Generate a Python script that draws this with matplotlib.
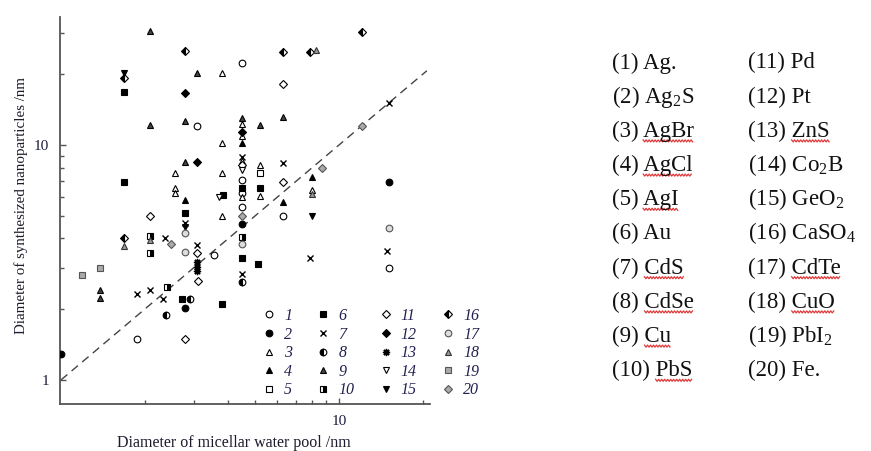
import numpy as np
import matplotlib
matplotlib.use('Agg')
import matplotlib.pyplot as plt
from matplotlib.lines import Line2D

plt.rcParams['font.family'] = ['Liberation Serif', 'DejaVu Serif']
plt.rcParams['mathtext.fontset'] = 'custom'
plt.rcParams['mathtext.rm'] = 'Liberation Serif'
plt.rcParams['mathtext.it'] = 'Liberation Serif:italic'

# ---------------- data ----------------
# (1) Ag
x01 = [4.49, 3.08, 4.49, 4.49, 4.49, 6.29, 3.55, 15.13, 1.87]
y01 = [22.3, 12.05, 7.10, 6.22, 5.45, 4.99, 3.39, 2.99, 1.50]
# (2) Ag2S
x02 = [1.0, 15.13, 2.79, 4.49]
y02 = [1.29, 6.98, 2.02, 4.63]
# (3) AgBr
x03 = [3.78, 3.78, 3.78, 3.78, 2.58, 2.58, 2.58, 4.49, 4.49, 4.49, 4.49, 5.22, 5.22, 7.98]
y03 = [20.3, 10.15, 7.58, 5.01, 7.58, 6.54, 6.22, 12.3, 10.9, 8.51, 6.01, 8.22, 6.07, 6.43]
# (4) AgCl
x04 = [4.49, 2.79, 6.29, 7.98]
y04 = [10.2, 5.83, 5.72, 7.34]
# (5) AgI
x05 = [5.22]
y05 = [7.58]
# (6) Au
x06 = [1.69, 1.69, 2.79, 3.84, 4.49, 5.22, 4.49, 5.13, 2.72, 3.78]
y06 = [16.8, 6.98, 5.15, 6.13, 6.59, 6.59, 3.32, 3.13, 2.20, 2.11]
# (7) CdS
x07 = [15.13, 6.29, 4.49, 2.79, 2.376, 3.08, 4.49, 7.87, 14.89, 2.09, 1.87, 2.333]
y07 = [15.1, 8.36, 8.89, 4.67, 4.01, 3.77, 2.83, 3.30, 3.55, 2.42, 2.32, 2.20]
# (8) CdSe
x08 = [4.49, 2.90, 2.39]
y08 = [2.61, 2.22, 1.89]
# (9) Cu
x09 = [2.09, 3.08, 2.09, 2.79, 2.79, 4.49, 5.22, 6.29, 1.38, 1.38]
y09 = [30.6, 20.3, 12.2, 12.65, 8.44, 13.0, 12.2, 13.2, 2.42, 2.23]
# (10) PbS
x10 = [2.09, 2.09, 4.49, 2.40]
y10 = [4.10, 3.46, 4.06, 2.49]
# (11) Pd
x11 = [6.29, 6.29, 2.09, 4.49, 3.08, 3.12, 2.79]
y11 = [18.1, 6.98, 5.01, 8.18, 3.46, 2.63, 1.50]
# (12) Pt
x12 = [2.79, 3.08, 4.49]
y12 = [16.7, 8.44, 11.4]
# (13) ZnS
x13 = [3.08, 3.08, 3.08]
y13 = [3.18, 3.03, 2.90]
# (14) Co2B
x14 = [3.69, 4.49]
y14 = [6.03, 7.79]
# (15) GeO2
x15 = [1.69, 2.79, 7.98]
y15 = [20.3, 4.47, 5.00]
# (16) CaSO4
x16 = [2.79, 1.69, 6.29, 7.87, 12.07, 1.69]
y16 = [25.2, 19.3, 24.9, 24.8, 30.35, 4.02]
# (17) CdTe
x17 = [2.79, 2.79, 4.49, 15.13]
y17 = [4.22, 3.50, 3.79, 4.42]
# (18) CuO
x18 = [8.27, 7.98, 1.69, 2.09]
y18 = [25.4, 6.16, 3.72, 3.94]
# (19) PbI2
x19 = [1.38, 1.19]
y19 = [2.99, 2.80]
# (20) Fe
x20 = [12.07, 8.67, 4.49, 2.48]
y20 = [12.05, 8.01, 5.00, 3.79]

series_x = [x01, x02, x03, x04, x05, x06, x07, x08, x09, x10,
            x11, x12, x13, x14, x15, x16, x17, x18, x19, x20]
series_y = [y01, y02, y03, y04, y05, y06, y07, y08, y09, y10,
            y11, y12, y13, y14, y15, y16, y17, y18, y19, y20]
legend_numbers = [str(i) for i in range(1, 21)]

compounds = ['Ag.', 'Ag$_2$S', 'AgBr', 'AgCl', 'AgI', 'Au', 'CdS', 'CdSe', 'Cu', 'PbS',
             'Pd', 'Pt', 'ZnS', 'Co$_2$B', 'GeO$_2$', 'CaSO$_4$', 'CdTe', 'CuO', 'PbI$_2$', 'Fe.']
flagged = [False, False, True, True, True, False, True, True, True, True,
           False, False, True, False, False, False, True, True, False, False]

diag_x = [1.0, 20.7]
diag_y = [1.0, 20.7]

# ---------------- marker styles ----------------
K = 'black'
styles = [
    dict(marker='o', mfc='white', mec=K),                       # 1
    dict(marker='o', mfc=K, mec=K),                             # 2
    dict(marker='^', mfc='white', mec=K),                       # 3
    dict(marker='^', mfc=K, mec=K),                             # 4
    dict(marker='s', mfc='white', mec=K),                       # 5
    dict(marker='s', mfc=K, mec=K),                             # 6
    dict(marker='x', mfc=K, mec=K),                             # 7
    dict(marker='o', mfc=K, mec=K, fillstyle='left', mfcalt='white'),   # 8
    dict(marker='^', mfc='#444444', mec=K),                     # 9
    dict(marker='s', mfc=K, mec=K, fillstyle='right', mfcalt='white'),  # 10
    dict(marker='D', mfc='white', mec=K),                       # 11
    dict(marker='D', mfc=K, mec=K),                             # 12
    dict(marker=(8, 2, 0), mfc=K, mec=K),                       # 13
    dict(marker='v', mfc='white', mec=K),                       # 14
    dict(marker='v', mfc=K, mec=K),                             # 15
    dict(marker='D', mfc=K, mec=K, fillstyle='left', mfcalt='white'),   # 16
    dict(marker='o', mfc='#dddddd', mec='#555555'),             # 17
    dict(marker='^', mfc='#999999', mec='#333333'),             # 18
    dict(marker='s', mfc='#aaaaaa', mec='#555555'),             # 19
    dict(marker='D', mfc='#aaaaaa', mec='#555555'),             # 20
]
sizes = [4.8, 4.8, 5.0, 5.0, 4.5, 4.5, 4.8, 4.8, 5.0, 4.5,
         4.3, 4.3, 5.2, 5.0, 5.0, 4.3, 4.8, 5.0, 4.5, 4.3]

W, H = 871, 451
fig = plt.figure(figsize=(W / 100, H / 100), dpi=100)
ax = fig.add_axes([60 / W, 1 - 404 / H, 370 / W, 387 / H])
ax.set_xscale('log')
ax.set_yscale('log')
ax.set_xlim(0.992, 21.25)
ax.set_ylim(0.79, 35.06)

ax.plot(diag_x, diag_y, color='#444444', lw=1.0, dashes=(6, 4), zorder=1)

handles = []
for sx, sy, st, ms in zip(series_x, series_y, styles, sizes):
    mew = 1.0 if st['marker'] in ('x', (8, 2, 0)) else 0.8
    ln, = ax.plot(sx, sy, ls='none', markersize=ms, markeredgewidth=mew, zorder=3,
                  markerfacecolor=st['mfc'], markeredgecolor=st['mec'],
                  marker=st['marker'], fillstyle=st.get('fillstyle', 'full'),
                  markerfacecoloralt=st.get('mfcalt', 'none'))
    handles.append(ln)

for side in ('top', 'right'):
    ax.spines[side].set_visible(False)
for side in ('left', 'bottom'):
    ax.spines[side].set_color('#555555')
    ax.spines[side].set_linewidth(1.3)

ax.xaxis.set_major_locator(matplotlib.ticker.FixedLocator([10]))
ax.xaxis.set_minor_locator(matplotlib.ticker.FixedLocator([2, 3, 4, 5, 6, 7, 8, 9, 20]))
ax.yaxis.set_major_locator(matplotlib.ticker.FixedLocator([1, 10]))
ax.yaxis.set_minor_locator(matplotlib.ticker.FixedLocator([2, 3, 4, 5, 6, 7, 8, 9, 20, 30]))
ax.xaxis.set_major_formatter(matplotlib.ticker.FixedFormatter(['10']))
ax.yaxis.set_major_formatter(matplotlib.ticker.FixedFormatter(['1', '10']))
ax.xaxis.set_minor_formatter(matplotlib.ticker.NullFormatter())
ax.yaxis.set_minor_formatter(matplotlib.ticker.NullFormatter())
ax.tick_params(which='both', direction='in', color='#555555', width=1.0,
               labelsize=11, labelcolor='#1c1c3c')
ax.tick_params(which='major', length=4.5, pad=8)
ax.tick_params(which='minor', length=3)

ax.set_xlabel('Diameter of micellar water pool /nm', fontsize=11.5, color='#1c1c2c', labelpad=5)
ax.set_ylabel('Diameter of synthesized nanoparticles /nm', fontsize=10.8, color='#1c1c2c', labelpad=4)
ax.xaxis.label.set_x(0.47)
ax.yaxis.label.set_y(0.514)

leg = ax.legend(handles, legend_numbers, ncol=4, loc='upper left',
                bbox_to_anchor=(261 / W, 1 - 308 / H), bbox_transform=fig.transFigure,
                frameon=False, prop=dict(family='Liberation Serif', style='italic', size=11.5),
                handlelength=1.0, handletextpad=0.45, columnspacing=1.45,
                labelspacing=0.16, borderpad=0, borderaxespad=0)
for t in leg.get_texts():
    t.set_color('#202050')

# ---------------- compound list on the right ----------------
col_x = [612, 748]
base0 = 68.5
step = 34.2
fs_list = 16.5
renderer = fig.canvas.get_renderer()
for i, (name, flag) in enumerate(zip(compounds, flagged)):
    col = i // 10
    row = i % 10
    xp = col_x[col]
    yb = base0 + step * row
    txt = fig.text(xp / W, 1 - yb / H, '(%d) %s' % (i + 1, name), fontsize=fs_list,
                   va='baseline', ha='left', color='#111111')
    if flag:
        full = txt.get_window_extent(renderer)
        tmp = fig.text(0, 0, name, fontsize=fs_list, va='baseline')
        ww = tmp.get_window_extent(renderer).width
        tmp.remove()
        x1 = full.x1
        x0 = x1 - ww
        ybase = H - yb - 4.0
        xs = np.arange(x0, x1 + 0.01, 1.5)
        ys = ybase + 1.0 * np.where((np.arange(len(xs)) % 2) == 0, 1, -1)
        fig.add_artist(Line2D(xs / W, ys / H, transform=fig.transFigure,
                              color='#e03838', lw=0.9))

fig.savefig('out.png', dpi=100)
